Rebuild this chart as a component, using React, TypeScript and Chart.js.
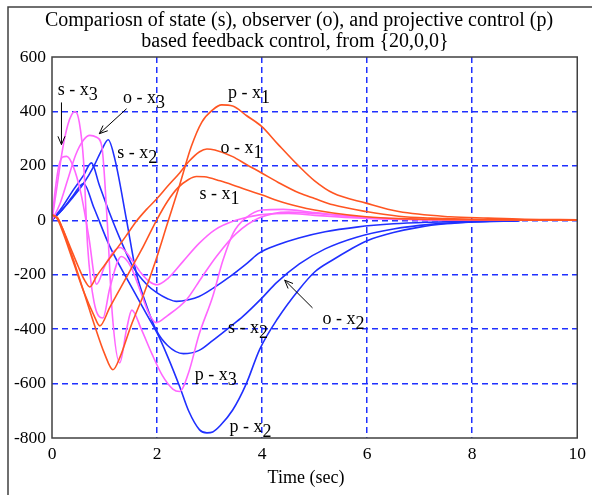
import React, { useEffect, useRef } from "react";
import { Chart, registerables } from "chart.js";
Chart.register(...registerables);

const titleLines = [
  "Compariosn of state (s), observer (o), and projective control (p)",
  "based feedback control, from {20,0,0}",
];
const xAxisTitle = "Time (sec)";

// x1 (orange)
const sx1T = [0, 0.1, 0.2, 0.4, 0.6, 0.8, 0.91, 1.1, 1.3, 1.5, 1.7, 1.99, 2.2, 2.4, 2.6, 2.75, 2.9, 3.2, 3.44, 3.7, 3.99, 4.3, 4.71, 5.0, 5.35, 5.98, 6.6, 7.5, 8.5, 10];
const sx1V = [20, 5, -40, -150, -260, -350, -388, -320, -250, -180, -110, 0, 70, 120, 150, 161, 160, 145, 130, 112, 94, 72, 50, 38, 27, 13, 6, 2, 1, 0];
const ox1T = [0, 0.1, 0.2, 0.35, 0.5, 0.62, 0.72, 0.85, 1.0, 1.17, 1.4, 1.6, 1.8, 2.0, 2.2, 2.43, 2.6, 2.81, 2.95, 3.1, 3.44, 3.7, 3.99, 4.3, 4.71, 5.0, 5.35, 5.98, 6.6, 7.2, 8, 9, 10];
const ox1V = [20, 10, -30, -100, -170, -220, -245, -205, -165, -121, -60, -5, 40, 80, 125, 174, 215, 252, 262, 258, 234, 205, 174, 140, 100, 80, 57, 32, 15, 8, 4, 1, 0];
const px1T = [0, 0.1, 0.2, 0.4, 0.6, 0.8, 1.0, 1.16, 1.3, 1.5, 1.75, 1.98, 2.2, 2.43, 2.65, 2.85, 3.06, 3.23, 3.44, 3.7, 3.99, 4.3, 4.71, 5.0, 5.35, 5.98, 6.6, 7.57, 8.3, 9, 10];
const px1V = [20, 10, -30, -140, -260, -380, -490, -549, -500, -390, -270, -145, -10, 130, 270, 360, 406, 424, 420, 385, 345, 280, 197, 145, 100, 63, 32, 13, 8, 4, 2];

// x2 (blue)
const sx2T = [0, 0.2, 0.4, 0.6, 0.75, 0.9, 1.1, 1.3, 1.54, 1.8, 2.0, 2.2, 2.37, 2.6, 2.8, 3.07, 3.4, 3.7, 3.95, 4.3, 4.7, 5.2, 5.8, 6.5, 7.2, 8, 8.9];
const sx2V = [0, 50, 110, 165, 211, 130, 25, -70, -170, -235, -267, -288, -298, -292, -280, -249, -205, -160, -120, -90, -65, -42, -25, -13, -7, -3, -1];
const ox2T = [0, 0.2, 0.4, 0.6, 0.8, 0.95, 1.07, 1.2, 1.42, 1.6, 1.74, 1.98, 2.2, 2.5, 2.8, 3.07, 3.4, 3.63, 4.0, 4.27, 4.71, 5.2, 5.8, 6.5, 7.2, 8, 8.9];
const ox2V = [0, 40, 85, 135, 200, 260, 296, 222, 0, -190, -280, -402, -460, -490, -478, -440, -390, -354, -285, -230, -160, -105, -62, -32, -15, -6, -2];
const px2T = [0, 0.2, 0.4, 0.6, 0.8, 1.1, 1.5, 1.8, 2.0, 2.2, 2.43, 2.6, 2.81, 2.95, 3.06, 3.2, 3.44, 3.7, 3.95, 4.3, 4.7, 5.0, 5.35, 5.67, 6.0, 6.5, 7, 7.5, 8, 8.5];
const px2V = [0, 40, 90, 135, 45, -96, -240, -345, -414, -500, -611, -700, -770, -781, -778, -755, -697, -600, -476, -360, -255, -190, -145, -108, -75, -45, -25, -13, -6, -2];

// x3 (magenta)
const sx3T = [0, 0.06, 0.13, 0.2, 0.28, 0.4, 0.55, 0.7, 0.85, 1.0, 1.15, 1.3, 1.5, 1.7, 1.85, 2.0, 2.2, 2.5, 2.8, 3.1, 3.5, 3.95, 4.5, 5, 6, 7, 8, 10];
const sx3V = [0, 110, 200, 232, 235, 200, 100, -60, -235, -170, -120, -100, -140, -195, -225, -237, -215, -150, -85, -35, 0, 20, 25, 18, 7, 2, 1, 0];
const ox3T = [0, 0.1, 0.2, 0.3, 0.38, 0.44, 0.52, 0.6, 0.68, 0.8, 0.97, 1.1, 1.32, 1.5, 1.7, 1.85, 1.98, 2.2, 2.56, 2.85, 3.13, 3.5, 3.95, 4.5, 5, 6, 7, 8, 10];
const ox3V = [0, 130, 260, 350, 390, 400, 360, 220, -100, -300, -359, -250, -133, -170, -270, -345, -376, -350, -292, -210, -133, -50, 9, 30, 25, 10, 3, 1, 0];
const px3T = [0, 0.15, 0.3, 0.45, 0.6, 0.72, 0.85, 0.95, 1.05, 1.15, 1.29, 1.42, 1.52, 1.7, 1.9, 2.1, 2.3, 2.43, 2.6, 2.8, 3.06, 3.25, 3.45, 3.7, 4.0, 4.4, 5, 6, 7, 8, 10];
const px3V = [0, 60, 150, 240, 295, 312, 305, 270, 0, -350, -524, -400, -330, -400, -490, -570, -620, -629, -560, -420, -280, -150, -47, 10, 38, 40, 28, 10, 3, 1, 0];

const xTickValues = [0, 2, 4, 6, 8, 10];
const yTickValues = [-800, -600, -400, -200, 0, 200, 400, 600];

const ORANGE = "#ff5522";
const BLUE = "#2030ff";
const MAGENTA = "#ff66ff";

const labels = [
  { text: "s - x", sub: "3", t: 0.11, v: 476 },
  { text: "o - x", sub: "3", t: 1.35, v: 450 },
  { text: "s - x", sub: "2", t: 1.24, v: 248 },
  { text: "p - x", sub: "1", t: 3.35, v: 468 },
  { text: "o - x", sub: "1", t: 3.21, v: 263 },
  { text: "s - x", sub: "1", t: 2.81, v: 94 },
  { text: "o - x", sub: "2", t: 5.15, v: -365 },
  { text: "s - x", sub: "2", t: 3.35, v: -395 },
  { text: "p - x", sub: "3", t: 2.72, v: -568 },
  { text: "p - x", sub: "2", t: 3.38, v: -759 },
];
const arrows = [
  { t0: 0.18, v0: 433, t1: 0.18, v1: 278 },
  { t0: 1.42, v0: 410, t1: 0.9, v1: 318 },
  { t0: 4.96, v0: -322, t1: 4.43, v1: -220 },
];

function pts(t: number[], v: number[]) {
  return t.map((x, i) => ({ x, y: v[i] }));
}

const FONT = '"Liberation Serif", "Times New Roman", serif';

export default function App() {
  const ref = useRef<HTMLCanvasElement | null>(null);
  useEffect(() => {
    if (!ref.current) return;
    const decor = {
      id: "decor",
      afterDatasetsDraw(chart: any) {
        const { ctx, chartArea: a, scales } = chart;
        const xs = scales.x, ys = scales.y;
        ctx.save();
        ctx.strokeStyle = "#404040";
        ctx.lineWidth = 1.5;
        ctx.strokeRect(a.left, a.top, a.right - a.left, a.bottom - a.top);
        ctx.fillStyle = "#000";
        ctx.font = "18px " + FONT;
        ctx.textBaseline = "middle";
        ctx.textAlign = "left";
        for (const l of labels) {
          const x = xs.getPixelForValue(l.t);
          const y = ys.getPixelForValue(l.v);
          ctx.fillText(l.text, x, y);
          const w = ctx.measureText(l.text).width;
          ctx.fillText(l.sub, x + w, y + 5);
        }
        ctx.strokeStyle = "#000";
        ctx.lineWidth = 1;
        for (const ar of arrows) {
          const x0 = xs.getPixelForValue(ar.t0), y0 = ys.getPixelForValue(ar.v0);
          const x1 = xs.getPixelForValue(ar.t1), y1 = ys.getPixelForValue(ar.v1);
          ctx.beginPath();
          ctx.moveTo(x0, y0);
          ctx.lineTo(x1, y1);
          const ang = Math.atan2(y1 - y0, x1 - x0);
          const L = 9, s = 0.4;
          ctx.moveTo(x1, y1);
          ctx.lineTo(x1 - L * Math.cos(ang - s), y1 - L * Math.sin(ang - s));
          ctx.moveTo(x1, y1);
          ctx.lineTo(x1 - L * Math.cos(ang + s), y1 - L * Math.sin(ang + s));
          ctx.stroke();
        }
        ctx.font = "20px " + FONT;
        ctx.textAlign = "center";
        ctx.fillText(titleLines[0], 299, 21);
        ctx.fillText(titleLines[1], 295, 42);
        ctx.font = "18px " + FONT;
        ctx.fillText(xAxisTitle, 306, 478);
        ctx.strokeStyle = "#404040";
        ctx.lineWidth = 1.5;
        ctx.beginPath();
        ctx.moveTo(8, 500);
        ctx.lineTo(8, 7);
        ctx.lineTo(600, 7);
        ctx.stroke();
        ctx.restore();
      },
    };
    const mk = (t: number[], v: number[], c: string) => ({
      data: pts(t, v),
      borderColor: c,
      borderWidth: 1.6,
      pointRadius: 0,
      fill: false,
      cubicInterpolationMode: "monotone" as const,
    });
    const gridColor = (ctx: any, edgeVals: number[]) =>
      edgeVals.includes(ctx.tick?.value) ? "rgba(0,0,0,0)" : "#2030ff";
    const chart = new Chart(ref.current, {
      type: "line",
      data: {
        datasets: [
          mk(px1T, px1V, ORANGE),
          mk(ox1T, ox1V, ORANGE),
          mk(sx1T, sx1V, ORANGE),
          mk(px3T, px3V, MAGENTA),
          mk(ox3T, ox3V, MAGENTA),
          mk(sx3T, sx3V, MAGENTA),
          mk(px2T, px2V, BLUE),
          mk(ox2T, ox2V, BLUE),
          mk(sx2T, sx2V, BLUE),
        ],
      },
      options: {
        responsive: false,
        animation: false,
        devicePixelRatio: 1,
        layout: { padding: { top: 57, right: 14, left: 0, bottom: 0 } },
        plugins: { legend: { display: false }, tooltip: { enabled: false }, title: { display: false } },
        scales: {
          x: {
            type: "linear",
            min: 0,
            max: 10,
            afterBuildTicks: (s: any) => { s.ticks = xTickValues.map((value) => ({ value })); },
            afterFit: (s: any) => { s.height = 57; },
            grid: {
              color: (c: any) => gridColor(c, [0, 10]),
              lineWidth: 1.5,
              drawTicks: false,
            },
            border: { display: false, dash: [6, 4] },
            ticks: { color: "#000", font: { family: FONT, size: 17.5 }, padding: 6, maxRotation: 0 },
          },
          y: {
            type: "linear",
            min: -800,
            max: 600,
            afterBuildTicks: (s: any) => { s.ticks = yTickValues.map((value) => ({ value })); },
            afterFit: (s: any) => { s.width = 52; },
            grid: {
              color: (c: any) => gridColor(c, [-800, 600]),
              lineWidth: 1.5,
              drawTicks: false,
            },
            border: { display: false, dash: [6, 4] },
            ticks: { color: "#000", font: { family: FONT, size: 17.5 }, padding: 6 },
          },
        },
      } as any,
      plugins: [decor],
    });
    return () => chart.destroy();
  }, []);
  return (
    <div style={{ position: "fixed", left: 0, top: 0, width: 592, height: 495, background: "#fff" }}>
      <canvas ref={ref} width={592} height={495} style={{ display: "block" }} />
    </div>
  );
}
